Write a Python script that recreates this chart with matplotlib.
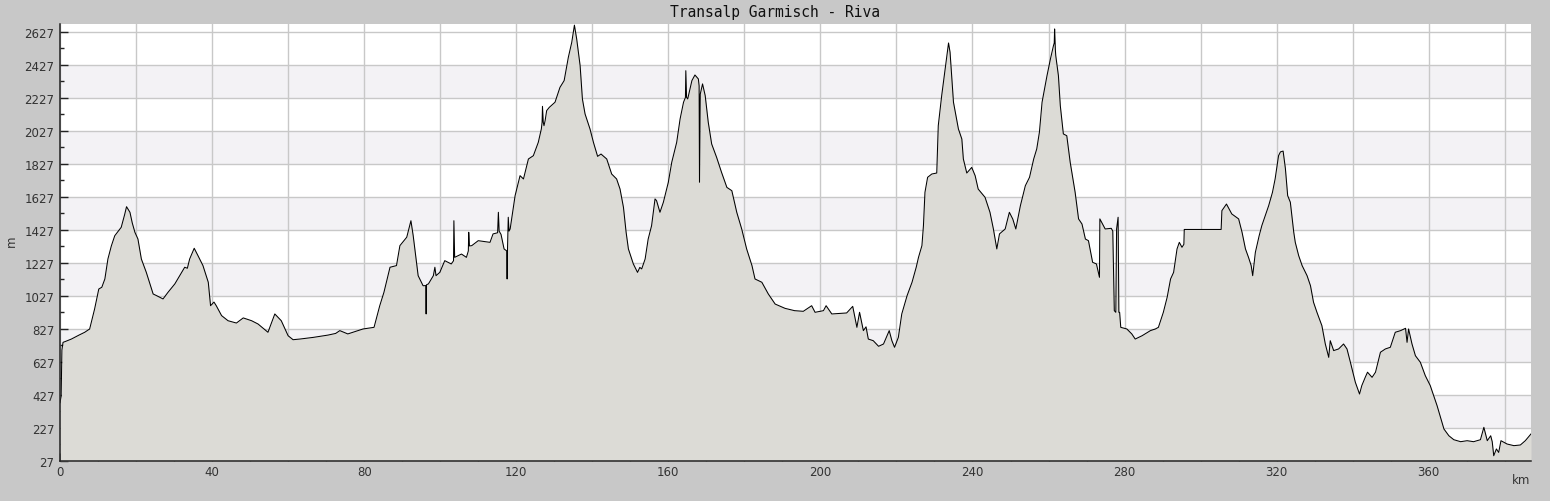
import matplotlib
matplotlib.use("Agg")
import matplotlib.pyplot as plt
from matplotlib.ticker import MultipleLocator, FixedLocator, FuncFormatter

title = "Transalp Garmisch - Riva"
x_label = "km"
y_label = "m"

km = [0.0, 0.3, 0.5, 0.8, 1.5, 3.0, 5.0, 6.5, 7.8, 9.1, 10.2, 11.0, 11.8, 12.6, 13.5, 14.4, 16.1, 17.0, 17.5, 18.4,
      19.0, 19.7, 20.5, 21.4, 22.7, 24.5, 25.4, 27.1, 28.4, 30.2, 31.5, 32.8, 33.5, 34.1, 35.3, 36.3, 37.6, 39.0, 39.6, 40.5,
      41.1, 42.5, 44.2, 46.4, 48.2, 50.4, 52.1, 54.7, 56.5, 58.2, 60.0, 61.3, 63.1, 66.6, 70.5, 72.5, 73.6, 75.7, 79.7, 82.6,
      84.1, 85.2, 86.8, 88.5, 89.4, 91.2, 92.3, 92.9, 94.2, 95.5, 96.2, 96.3, 96.4, 96.9, 98.2, 98.6, 98.9, 99.9, 101.2, 102.9,
      103.5, 103.6, 103.8, 105.6, 106.9, 107.4, 107.5, 107.7, 108.3, 110.0, 113.1, 113.9, 115.1, 115.3, 115.5, 116.0, 116.8, 117.5, 117.6, 117.7,
      117.9, 118.1, 118.4, 119.7, 121.0, 121.9, 123.2, 124.5, 125.8, 126.6, 126.8, 126.9, 127.1, 127.3, 127.6, 128.0, 128.7, 130.2, 131.5, 132.6,
      133.7, 134.6, 135.3, 135.9, 136.8, 137.4, 138.1, 139.4, 140.3, 141.4, 142.3, 143.8, 145.1, 146.4, 147.3, 148.2, 148.9, 149.5, 150.8, 151.9,
      152.5, 153.0, 153.9, 154.7, 155.6, 156.5, 156.9, 157.8, 158.7, 160.0, 160.9, 162.2, 163.1, 164.0, 164.5, 164.6, 164.8, 165.1, 166.2, 167.0,
      167.9, 168.1, 168.2, 168.4, 169.0, 169.7, 170.5, 171.4, 172.7, 174.0, 175.4, 176.7, 178.0, 179.3, 180.6, 182.0, 182.8, 184.6, 186.3, 188.1,
      190.7, 193.2, 195.5, 197.7, 198.6, 200.8, 201.5, 203.0, 206.9, 208.5, 209.6, 210.3, 211.3, 212.0, 212.6, 213.9, 215.3, 216.6, 218.1, 218.8,
      219.5, 220.5, 221.4, 222.8, 224.1, 225.2, 225.8, 226.7, 227.1, 227.5, 228.2, 229.3, 230.6, 231.0, 231.9, 232.8, 233.7, 234.1, 235.0, 236.3,
      237.2, 237.6, 238.5, 239.8, 240.7, 241.5, 243.3, 244.6, 245.5, 246.4, 247.1, 248.6, 249.7, 250.6, 251.4, 252.6, 253.9, 255.0, 256.1, 256.9,
      257.6, 258.3, 259.6, 260.5, 261.3, 261.5, 261.6, 261.8, 261.9, 262.6, 263.1, 263.9, 264.8, 265.7, 267.0, 267.9, 268.8, 269.7, 270.5, 271.6,
      272.6, 273.4, 273.5, 274.9, 276.5, 276.9, 277.3, 277.7, 277.9, 278.3, 278.5, 278.7, 279.0, 280.6, 281.9, 282.8, 284.6, 286.8, 288.1, 288.9,
      290.2, 291.2, 292.1, 292.9, 293.8, 294.4, 295.1, 295.6, 295.7, 305.4, 305.6, 306.8, 308.2, 310.0, 310.9, 311.8, 312.6, 313.3, 313.7, 314.4,
      315.4, 316.1, 317.0, 317.9, 318.9, 319.6, 320.5, 321.0, 321.7, 322.3, 322.9, 323.6, 324.5, 324.9, 325.8, 326.7, 328.0, 328.9, 329.7, 330.6,
      331.9, 332.8, 333.7, 334.1, 335.0, 336.3, 337.6, 338.5, 339.4, 340.7, 341.8, 342.4, 343.3, 343.9, 345.1, 346.0, 347.3, 348.6, 349.9, 351.2,
      352.6, 353.9, 354.3, 354.7, 355.6, 356.5, 357.8, 359.1, 360.4, 361.3, 362.2, 363.1, 364.0, 365.3, 366.6, 368.4, 370.1, 371.8, 373.6, 374.5,
      375.4, 376.3, 376.7, 377.1, 377.8, 378.4, 379.0, 380.6, 382.4, 384.1, 385.4, 386.9]

elev = [380, 420, 700, 746, 752, 766, 790, 807, 827, 948, 1069, 1080, 1130, 1251, 1330, 1392, 1443, 1520, 1568, 1534,
        1470, 1413, 1372, 1251, 1170, 1039, 1029, 1009, 1049, 1100, 1150, 1201, 1195, 1251, 1316, 1271, 1211, 1110, 968, 990,
        968, 908, 877, 863, 894, 877, 857, 807, 918, 877, 786, 762, 766, 776, 790, 800, 817, 797, 827, 837,
        968, 1049, 1201, 1211, 1332, 1383, 1483, 1392, 1150, 1089, 1090, 918, 1095, 1100, 1150, 1201, 1150, 1170, 1241, 1221,
        1240, 1483, 1261, 1281, 1261, 1300, 1413, 1330, 1332, 1362, 1352, 1403, 1410, 1534, 1420, 1400, 1312, 1300, 1130, 1310,
        1504, 1420, 1433, 1635, 1756, 1736, 1857, 1877, 1958, 2039, 2080, 2176, 2080, 2059, 2090, 2150, 2170, 2201, 2291, 2332,
        2473, 2564, 2668, 2584, 2423, 2221, 2130, 2039, 1958, 1873, 1887, 1857, 1766, 1736, 1675, 1564, 1413, 1312, 1221, 1170,
        1200, 1191, 1251, 1372, 1453, 1615, 1605, 1534, 1595, 1716, 1837, 1958, 2100, 2201, 2230, 2392, 2230, 2221, 2332, 2366,
        2342, 2300, 1716, 2250, 2312, 2241, 2080, 1948, 1867, 1776, 1685, 1665, 1534, 1433, 1312, 1211, 1130, 1110, 1039, 978,
        952, 938, 934, 968, 928, 938, 968, 918, 924, 964, 837, 928, 817, 840, 766, 756, 722, 736, 817, 756,
        716, 776, 918, 1029, 1110, 1201, 1261, 1332, 1453, 1655, 1746, 1766, 1772, 2059, 2241, 2403, 2560, 2504, 2201, 2039,
        1978, 1857, 1772, 1806, 1756, 1675, 1625, 1534, 1433, 1312, 1403, 1433, 1534, 1493, 1433, 1574, 1695, 1746, 1857, 1918,
        2019, 2201, 2362, 2463, 2544, 2560, 2645, 2520, 2484, 2362, 2180, 2009, 1998, 1837, 1655, 1494, 1463, 1372, 1362, 1231,
        1221, 1140, 1494, 1433, 1437, 1420, 938, 928, 1433, 1504, 928, 928, 837, 827, 797, 766, 786, 817, 827, 837,
        928, 1019, 1130, 1170, 1312, 1352, 1322, 1340, 1430, 1430, 1544, 1584, 1524, 1494, 1413, 1312, 1261, 1211, 1150, 1291,
        1392, 1453, 1514, 1574, 1655, 1736, 1877, 1900, 1905, 1800, 1635, 1595, 1413, 1352, 1271, 1211, 1150, 1089, 989, 928,
        847, 736, 655, 756, 696, 706, 736, 706, 625, 504, 433, 484, 534, 565, 534, 565, 686, 706, 716, 807,
        817, 831, 746, 827, 736, 665, 625, 544, 484, 423, 362, 292, 221, 180, 156, 144, 150, 144, 156, 231,
        150, 180, 144, 59, 100, 79, 150, 130, 120, 124, 150, 191]

y_ticks = list(range(27, 2628, 200))
x_tick_labels = list(range(0, 361, 40))
band_ranges = [(227, 427), (627, 827), (1027, 1227), (1427, 1627), (1827, 2027), (2227, 2427)]

fig = plt.figure(figsize=(15.5, 5.02), dpi=100, facecolor="#c8c8c8")
ax = fig.add_axes([60 / 1550, 40 / 502, 1471 / 1550, 437 / 502])
ax.set_facecolor("white")

for lo, hi in band_ranges:
    ax.axhspan(lo, hi, color="#f3f2f5", zorder=0.5, lw=0)

ax.fill_between(km, elev, 27, color="#dcdbd6", zorder=2, lw=0)
ax.plot(km, elev, color="black", lw=0.75, zorder=3)

ax.set_xlim(0, 386.9)
ax.set_ylim(27, 2675)

ax.yaxis.set_major_locator(FixedLocator(y_ticks))
ax.yaxis.set_minor_locator(FixedLocator([v + 100 for v in y_ticks]))
ax.xaxis.set_major_locator(MultipleLocator(20))
ax.xaxis.set_minor_locator(MultipleLocator(10))
ax.xaxis.set_major_formatter(FuncFormatter(lambda v, p: f"{int(round(v))}" if int(round(v)) in x_tick_labels else ""))

ax.grid(True, which="major", color="#c8c8c8", lw=1.0, zorder=1)
ax.set_axisbelow(True)

for s in ["top", "right"]:
    ax.spines[s].set_visible(False)
for s in ["left", "bottom"]:
    ax.spines[s].set_color("#222222")
    ax.spines[s].set_linewidth(1.1)
    ax.spines[s].set_zorder(4)

ax.tick_params(axis="both", which="major", direction="in", length=5.5, width=1, color="#222222",
               labelsize=8.5, labelcolor="#333333", pad=4)
ax.tick_params(axis="both", which="minor", direction="in", length=3, width=1, color="#222222")
ax.tick_params(axis="x", which="major", pad=3)

fig.text(775 / 1550, 1 - 13 / 502, title, ha="center", va="center",
         family="DejaVu Sans Mono", fontsize=10.5, color="#111111")
fig.text(11 / 1550, 1 - 241 / 502, y_label, ha="center", va="center", rotation=90,
         fontsize=8.5, color="#333333")
fig.text(1521 / 1550, 1 - 481 / 502, x_label, ha="center", va="center",
         fontsize=8.5, color="#333333")

fig.savefig("out.png", dpi=100, facecolor=fig.get_facecolor())
